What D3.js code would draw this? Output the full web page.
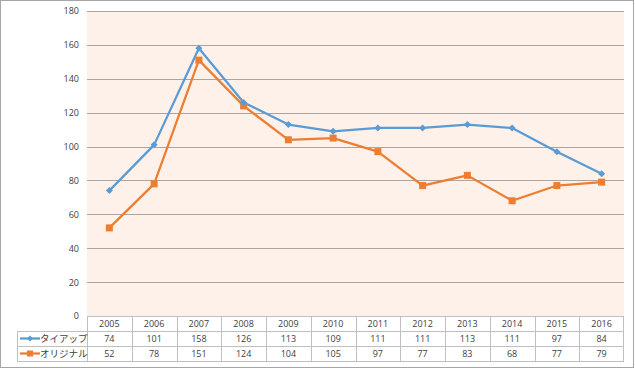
<!DOCTYPE html>
<html>
<head>
<meta charset="utf-8">
<script src="https://cdn.jsdelivr.net/npm/d3@7"></script>
<style>
  body { margin: 0; background: #fff; }
  text { font-family: "Open Sans", "Noto Sans CJK JP", sans-serif; }
</style>
</head>
<body>
<div id="chart"></div>
<script>
var years = ["2005","2006","2007","2008","2009","2010","2011","2012","2013","2014","2015","2016"];
var tieup = [74, 101, 158, 126, 113, 109, 111, 111, 113, 111, 97, 84];
var original = [52, 78, 151, 124, 104, 105, 97, 77, 83, 68, 77, 79];
var seriesNames = ["タイアップ", "オリジナル"];
var yTicks = [0, 20, 40, 60, 80, 100, 120, 140, 160, 180];

var W = 635, H = 369;
var margin = {top: 11, right: 12, bottom: 53, left: 87},
    width = 624 - margin.left,
    height = 316 - margin.top;
var rowH = 15;

var svg = d3.select("#chart")
  .append("svg")
    .attr("width", W)
    .attr("height", H);

// outer frame
svg.append("rect")
  .attr("x", 0.5).attr("y", 0.5)
  .attr("width", 633).attr("height", 367)
  .attr("fill", "#fff")
  .attr("stroke", "#a6a6a6");

var g = svg.append("g")
  .attr("transform", "translate(" + margin.left + "," + margin.top + ")");

var x = d3.scaleBand()
  .domain(years)
  .range([0, width]);

var y = d3.scaleLinear()
  .domain([0, 180])
  .range([height, 0]);

g.append("rect")
  .attr("width", width)
  .attr("height", height)
  .attr("fill", "#fdf1e9");

// gridlines
g.selectAll(".grid")
  .data(yTicks.filter(function(d) { return d > 0; }))
  .enter().append("line")
    .attr("x1", 0).attr("x2", width)
    .attr("y1", function(d) { return Math.round(y(d)) + 0.5; })
    .attr("y2", function(d) { return Math.round(y(d)) + 0.5; })
    .attr("stroke", "#aca4a0")
    .attr("stroke-width", 1);

// y axis labels
var yAxis = d3.axisLeft(y).tickValues(yTicks).tickSize(0).tickPadding(8);
g.append("g").call(yAxis)
  .call(function(s) { s.select(".domain").remove(); })
  .selectAll("text")
    .style("font-size", "9px")
    .attr("fill", "#404040");

// lines
var colors = ["#5b9bd5", "#ed7d31"];
var allData = [tieup, original];
var line = d3.line()
  .x(function(d, i) { return x(years[i]) + x.bandwidth() / 2; })
  .y(function(d) { return y(d); });

// orange first so blue sits on top
[1, 0].forEach(function(k) {
  g.append("path")
    .datum(allData[k])
    .attr("fill", "none")
    .attr("stroke", colors[k])
    .attr("stroke-width", 2.25)
    .attr("stroke-linejoin", "round")
    .attr("d", line);
});

// markers
g.selectAll(".sq")
  .data(original)
  .enter().append("rect")
    .attr("x", function(d, i) { return x(years[i]) + x.bandwidth() / 2 - 3.5; })
    .attr("y", function(d) { return y(d) - 3.5; })
    .attr("width", 7).attr("height", 7)
    .attr("fill", colors[1]);

g.selectAll(".dm")
  .data(tieup)
  .enter().append("path")
    .attr("transform", function(d, i) {
      return "translate(" + (x(years[i]) + x.bandwidth() / 2) + "," + y(d) + ")";
    })
    .attr("d", "M0,-3.5L3.5,0L0,3.5L-3.5,0Z")
    .attr("fill", colors[0]);

// data table
var t = svg.append("g")
  .attr("transform", "translate(" + margin.left + "," + (margin.top + height) + ")");
var lineCol = "#bfbfbf";
var legendLeft = 17 - margin.left;

// horizontal lines
[0, 1, 2, 3].forEach(function(r) {
  t.append("line")
    .attr("x1", r === 0 ? 0 : legendLeft).attr("x2", width)
    .attr("y1", r * rowH + 0.5).attr("y2", r * rowH + 0.5)
    .attr("stroke", lineCol);
});
// vertical lines
years.forEach(function(d, i) {
  t.append("line")
    .attr("x1", Math.round(x(d)) + 0.5).attr("x2", Math.round(x(d)) + 0.5)
    .attr("y1", 0).attr("y2", 3 * rowH)
    .attr("stroke", lineCol);
});
t.append("line")
  .attr("x1", width - 0.5).attr("x2", width - 0.5)
  .attr("y1", 0).attr("y2", 3 * rowH)
  .attr("stroke", lineCol);
t.append("line")
  .attr("x1", legendLeft + 0.5).attr("x2", legendLeft + 0.5)
  .attr("y1", rowH).attr("y2", 3 * rowH)
  .attr("stroke", lineCol);

// year labels
t.selectAll(".yr")
  .data(years)
  .enter().append("text")
    .attr("x", function(d) { return x(d) + x.bandwidth() / 2; })
    .attr("y", rowH / 2)
    .attr("dy", "0.35em")
    .attr("text-anchor", "middle")
    .style("font-size", "9px")
    .attr("fill", "#404040")
    .text(function(d) { return d; });

allData.forEach(function(vals, k) {
  var ry = (k + 1) * rowH;
  t.selectAll(".v" + k)
    .data(vals)
    .enter().append("text")
      .attr("x", function(d, i) { return x(years[i]) + x.bandwidth() / 2; })
      .attr("y", ry + rowH / 2)
      .attr("dy", "0.35em")
      .attr("text-anchor", "middle")
      .style("font-size", "9px")
      .attr("fill", "#404040")
      .text(function(d) { return d; });

  // legend key
  var cy = ry + rowH / 2;
  t.append("line")
    .attr("x1", legendLeft + 3).attr("x2", legendLeft + 23)
    .attr("y1", cy).attr("y2", cy)
    .attr("stroke", colors[k]).attr("stroke-width", 2.25);
  if (k === 0) {
    t.append("path")
      .attr("transform", "translate(" + (legendLeft + 13) + "," + cy + ")")
      .attr("d", "M0,-3L3,0L0,3L-3,0Z")
      .attr("fill", colors[0]);
  } else {
    t.append("rect")
      .attr("x", legendLeft + 10).attr("y", cy - 3)
      .attr("width", 6).attr("height", 6)
      .attr("fill", colors[1]);
  }
  t.append("text")
    .attr("x", legendLeft + 23)
    .attr("y", cy)
    .attr("dy", "0.35em")
    .style("font-size", "9.5px")
    .style("font-family", "'Noto Sans CJK JP', sans-serif")
    .attr("fill", "#404040")
    .text(seriesNames[k]);
});
</script>
</body>
</html>
